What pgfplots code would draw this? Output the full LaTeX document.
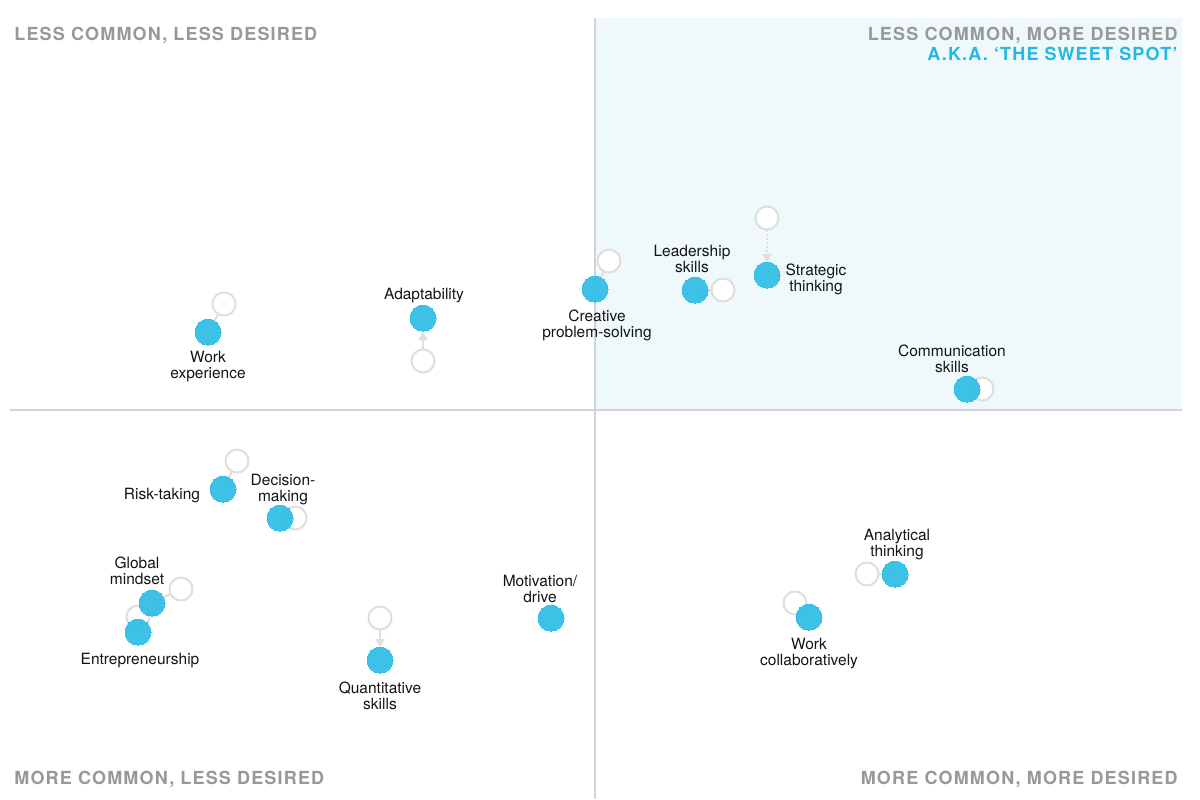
\documentclass[border=0pt]{standalone}
\usepackage{pgfplots}
\pgfplotsset{compat=1.18}
\usepackage{fontspec}
\setmainfont{TeX Gyre Heros}
\newfontfamily\quadfont[LetterSpace=6.5]{TeX Gyre Heros}
\usetikzlibrary{arrows.meta}
\definecolor{dotblue}{RGB}{52,190,230}
\definecolor{hollowgray}{RGB}{222,222,222}
\definecolor{quadgray}{RGB}{152,152,152}
\definecolor{sweetblue}{RGB}{38,183,226}
\definecolor{sweetbg}{RGB}{239,249,252}
\definecolor{linegray}{RGB}{208,212,214}
\definecolor{labelc}{RGB}{20,20,20}
\tikzset{
  lab/.style={font=\fontsize{7.75}{8}\selectfont, text=labelc, align=center, inner sep=0pt, yshift=-1.2pt},
  quad/.style={font=\fontsize{9}{10}\selectfont\quadfont\bfseries, inner sep=0pt}}
\begin{document}
\begin{tikzpicture}
\begin{axis}[scale only axis, width=600pt, height=399.5pt,
  xmin=0, xmax=1200, ymin=0, ymax=799, y dir=reverse,
  hide axis, clip=false]
% background and quadrants
\fill[white] (axis cs:0,0) rectangle (axis cs:1200,799);
\fill[sweetbg] (axis cs:595,18) rectangle (axis cs:1182,410);
\draw[linegray, line width=0.6pt] (axis cs:10,410) -- (axis cs:1182,410);
\draw[linegray, line width=0.6pt] (axis cs:595,18) -- (axis cs:595,799);
% quadrant titles
\node[quad, text=quadgray, anchor=base west] at (axis cs:14,40) {LESS COMMON, LESS DESIRED};
\node[quad, text=quadgray, anchor=base east] at (axis cs:1178,40) {LESS COMMON, MORE DESIRED};
\node[quad, text=sweetblue, anchor=base east] at (axis cs:1178,60) {A.K.A. ‘THE SWEET SPOT’};
\node[quad, text=quadgray, anchor=base west] at (axis cs:14,784) {MORE COMMON, LESS DESIRED};
\node[quad, text=quadgray, anchor=base east] at (axis cs:1178,784) {MORE COMMON, MORE DESIRED};
% connectors
\addplot[hollowgray, line width=1pt] coordinates {(224,304) (208,332)};
\addplot[hollowgray, line width=1pt] coordinates {(609,261) (595,289)};
\addplot[hollowgray, line width=1pt] coordinates {(723,290) (695,290)};
\addplot[hollowgray, line width=1pt] coordinates {(982,389) (967,389)};
\addplot[hollowgray, line width=1pt] coordinates {(237,461) (223,489)};
\addplot[hollowgray, line width=1pt] coordinates {(295,518) (280,518)};
\addplot[hollowgray, line width=1pt] coordinates {(181,589) (152,603)};
\addplot[hollowgray, line width=1pt] coordinates {(138,617) (138,632)};
\addplot[hollowgray, line width=1pt] coordinates {(867,574) (895,574)};
\addplot[hollowgray, line width=1pt] coordinates {(795,603) (809,617)};
% arrows
\addplot[hollowgray, line width=1pt, -{Triangle[width=4.5pt,length=4pt]}] coordinates {(423,349) (423,332)};
\addplot[hollowgray, line width=1pt, densely dotted, -{Triangle[width=4.5pt,length=4pt]}] coordinates {(767,230) (767,262)};
\addplot[hollowgray, line width=1pt, -{Triangle[width=4.5pt,length=4pt]}] coordinates {(380,630) (380,647)};
% previous (hollow)
\addplot[only marks, mark=*, mark size=5.75pt, color=hollowgray, mark options={fill=white, draw=hollowgray, line width=1pt}]
  coordinates {(224,304) (423,361) (609,261) (723,290) (767,218) (982,389) (237,461) (295,518) (181,589) (138,617) (380,618) (867,574) (795,603)};
% current (filled)
\addplot[only marks, mark=*, mark size=6.5pt, color=dotblue, mark options={fill=dotblue, draw=dotblue, line width=0pt, opacity=0.95}]
  coordinates {(208,332) (423,318) (595,289) (695,290) (767,275) (967,389) (223,489) (280,518) (152,603) (138,632) (380,660) (551,618) (895,574) (809,617)};
% labels
\node[lab] at (axis cs:208,364) {Work\\experience};
\node[lab] at (axis cs:424,293) {Adaptability};
\node[lab] at (axis cs:597,323) {Creative\\problem-solving};
\node[lab] at (axis cs:692,257) {Leadership\\skills};
\node[lab] at (axis cs:816,277) {Strategic\\thinking};
\node[lab] at (axis cs:952,356) {Communication\\skills};
\node[lab] at (axis cs:162,493) {Risk-taking};
\node[lab] at (axis cs:283,487) {Decision-\\making};
\node[lab] at (axis cs:137,568) {Global\\mindset};
\node[lab] at (axis cs:140,658) {Entrepreneurship};
\node[lab] at (axis cs:380,693) {Quantitative\\skills};
\node[lab] at (axis cs:540,587) {Motivation/\\drive};
\node[lab] at (axis cs:897,542) {Analytical\\thinking};
\node[lab] at (axis cs:809,651) {Work\\collaboratively};
\end{axis}
\end{tikzpicture}
\end{document}
